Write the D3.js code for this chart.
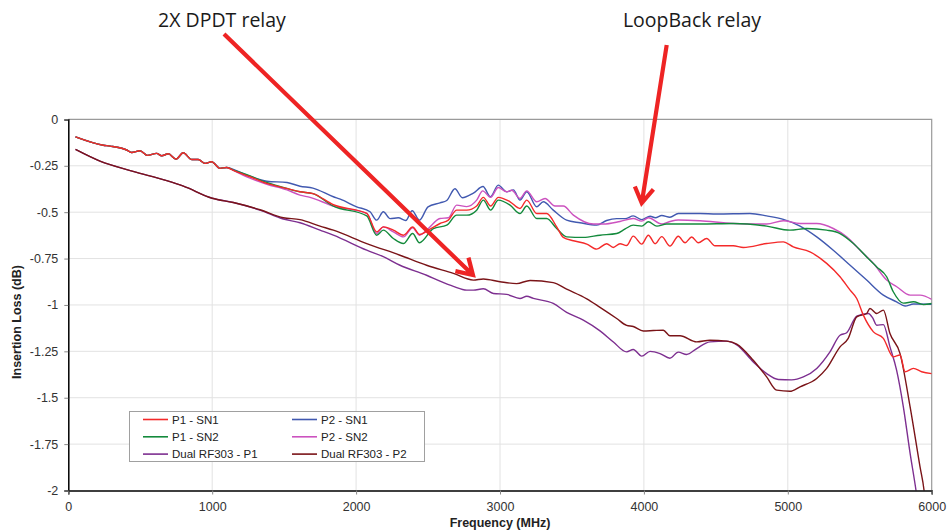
<!DOCTYPE html>
<html>
<head>
<meta charset="utf-8">
<script src="https://cdn.jsdelivr.net/npm/d3@7"></script>
<style>
  body { margin: 0; background: #fff; }
  svg { display: block; }
  .tick text { font-family: "Liberation Sans", Arial, sans-serif; font-size: 12.5px; fill: #333; }
</style>
</head>
<body>
<svg width="949" height="531"></svg>
<script>
// frequency (MHz), insertion loss (dB) pairs
const lowCommon = [[50,-0.094],[243,-0.139],[290,-0.144],[406,-0.165],[440,-0.178],[498,-0.169],[549,-0.194],[614,-0.183],[649,-0.196],[695,-0.185],[748,-0.214],[799,-0.18],[857,-0.216],[903,-0.216],[950,-0.237],[996,-0.228],[1054,-0.264],[1101,-0.259]]

const p1sn1 = lowCommon.concat([[1147,-0.275],[1263,-0.309],[1379,-0.345],[1518,-0.372],[1610,-0.39],[1700,-0.40],[1842,-0.46],[2074,-0.507],[2143,-0.606],[2189,-0.579],[2259,-0.597],[2329,-0.624],[2393,-0.58],[2440,-0.62],[2502,-0.597],[2583,-0.561],[2641,-0.543],[2699,-0.489],[2769,-0.489],[2838,-0.467],[2884,-0.42],[2935,-0.467],[2988,-0.42],[3070,-0.444],[3139,-0.48],[3186,-0.435],[3255,-0.507],[3324,-0.507],[3394,-0.579],[3440,-0.636],[3510,-0.654],[3603,-0.672],[3672,-0.699],[3741,-0.67],[3787,-0.69],[3834,-0.67],[3880,-0.68],[3926,-0.629],[3985,-0.672],[4031,-0.624],[4078,-0.67],[4124,-0.632],[4181,-0.683],[4239,-0.63],[4286,-0.665],[4332,-0.634],[4378,-0.665],[4436,-0.642],[4494,-0.681],[4621,-0.681],[4691,-0.69],[4853,-0.669],[4969,-0.66],[5038,-0.687],[5154,-0.714],[5270,-0.776],[5363,-0.848],[5433,-0.92],[5479,-0.965],[5525,-1.055],[5595,-1.145],[5664,-1.18],[5733,-1.28],[5780,-1.27],[5815,-1.36],[5873,-1.342],[5930,-1.36],[6000,-1.37]])

const p2sn1 = lowCommon.concat([[1147,-0.27],[1240,-0.30],[1380,-0.333],[1520,-0.34],[1610,-0.36],[1700,-0.37],[1842,-0.417],[1890,-0.43],[2004,-0.471],[2097,-0.498],[2143,-0.543],[2189,-0.498],[2236,-0.535],[2293,-0.53],[2345,-0.545],[2390,-0.492],[2440,-0.543],[2500,-0.471],[2583,-0.45],[2630,-0.437],[2687,-0.374],[2738,-0.422],[2815,-0.397],[2882,-0.362],[2933,-0.417],[2988,-0.354],[3046,-0.39],[3093,-0.38],[3139,-0.435],[3186,-0.39],[3255,-0.471],[3301,-0.444],[3370,-0.489],[3463,-0.543],[3556,-0.557],[3672,-0.57],[3741,-0.545],[3811,-0.535],[3870,-0.535],[3926,-0.52],[3985,-0.54],[4043,-0.522],[4080,-0.53],[4124,-0.518],[4181,-0.527],[4239,-0.507],[4390,-0.507],[4506,-0.51],[4737,-0.507],[4853,-0.52],[4969,-0.539],[5085,-0.575],[5201,-0.633],[5316,-0.705],[5433,-0.786],[5548,-0.866],[5664,-0.947],[5756,-0.983],[5815,-1.006],[5873,-0.995],[6000,-0.996]])

const p1sn2 = lowCommon.concat([[1147,-0.273],[1263,-0.305],[1379,-0.34],[1518,-0.372],[1610,-0.39],[1700,-0.40],[1842,-0.467],[2074,-0.52],[2143,-0.624],[2189,-0.597],[2259,-0.642],[2329,-0.669],[2393,-0.615],[2440,-0.665],[2537,-0.588],[2630,-0.57],[2699,-0.516],[2769,-0.516],[2838,-0.489],[2884,-0.435],[2935,-0.489],[2988,-0.435],[3070,-0.462],[3139,-0.507],[3186,-0.467],[3255,-0.534],[3324,-0.534],[3394,-0.588],[3463,-0.633],[3580,-0.636],[3695,-0.624],[3811,-0.615],[3870,-0.59],[3926,-0.57],[3985,-0.575],[4031,-0.552],[4090,-0.575],[4158,-0.564],[4390,-0.564],[4621,-0.561],[4853,-0.575],[5015,-0.597],[5131,-0.588],[5270,-0.597],[5363,-0.615],[5456,-0.669],[5548,-0.741],[5618,-0.795],[5687,-0.848],[5733,-0.929],[5803,-0.99],[5873,-0.983],[5942,-0.998],[6000,-0.992]])

const p2sn2 = lowCommon.concat([[1147,-0.275],[1240,-0.31],[1380,-0.35],[1520,-0.38],[1610,-0.408],[1680,-0.42],[1842,-0.467],[2074,-0.507],[2143,-0.615],[2189,-0.579],[2259,-0.606],[2329,-0.633],[2393,-0.584],[2440,-0.624],[2502,-0.588],[2583,-0.534],[2641,-0.53],[2699,-0.462],[2769,-0.47],[2838,-0.435],[2880,-0.385],[2935,-0.42],[2988,-0.367],[3046,-0.39],[3081,-0.382],[3139,-0.426],[3186,-0.385],[3255,-0.444],[3313,-0.426],[3382,-0.467],[3440,-0.467],[3510,-0.516],[3649,-0.564],[3718,-0.564],[3834,-0.55],[3926,-0.534],[3985,-0.548],[4031,-0.53],[4124,-0.564],[4181,-0.55],[4239,-0.542],[4390,-0.546],[4621,-0.561],[4853,-0.564],[4969,-0.546],[5085,-0.561],[5201,-0.561],[5316,-0.588],[5409,-0.633],[5502,-0.705],[5595,-0.776],[5687,-0.866],[5757,-0.902],[5850,-0.947],[5919,-0.947],[6000,-0.97]])

const dualP1 = [[50,-0.162],[220,-0.225],[450,-0.28],[684,-0.33],[800,-0.36],[1000,-0.425],[1147,-0.448],[1332,-0.489],[1494,-0.537],[1610,-0.557],[1749,-0.597],[1842,-0.624],[2074,-0.705],[2189,-0.74],[2305,-0.786],[2490,-0.84],[2583,-0.872],[2676,-0.9],[2769,-0.92],[2815,-0.92],[2884,-0.913],[2954,-0.938],[3046,-0.943],[3139,-0.965],[3186,-0.953],[3232,-0.965],[3370,-0.992],[3463,-1.04],[3579,-1.082],[3695,-1.14],[3788,-1.2],[3880,-1.253],[3926,-1.24],[3985,-1.276],[4043,-1.25],[4112,-1.262],[4181,-1.287],[4239,-1.254],[4297,-1.267],[4367,-1.235],[4459,-1.199],[4575,-1.195],[4645,-1.215],[4760,-1.307],[4853,-1.37],[4934,-1.402],[5027,-1.404],[5108,-1.388],[5201,-1.342],[5293,-1.253],[5363,-1.163],[5409,-1.15],[5479,-1.06],[5560,-1.046],[5590,-1.07],[5618,-1.109],[5664,-1.106],[5710,-1.226],[5756,-1.351],[5803,-1.549],[5850,-1.8],[5891,-2.0],[5900,-2.05]]

const dualP2 = [[50,-0.162],[220,-0.225],[450,-0.28],[684,-0.33],[800,-0.36],[1000,-0.425],[1147,-0.448],[1332,-0.487],[1494,-0.53],[1610,-0.54],[1749,-0.575],[1842,-0.597],[2074,-0.669],[2305,-0.732],[2490,-0.786],[2676,-0.83],[2815,-0.866],[2884,-0.86],[3000,-0.875],[3116,-0.885],[3209,-0.868],[3370,-0.88],[3463,-0.915],[3603,-0.967],[3695,-1.013],[3811,-1.073],[3880,-1.11],[3926,-1.116],[3996,-1.14],[4065,-1.138],[4135,-1.136],[4181,-1.166],[4251,-1.166],[4367,-1.199],[4459,-1.19],[4575,-1.195],[4645,-1.211],[4760,-1.298],[4853,-1.388],[4923,-1.459],[5015,-1.465],[5085,-1.441],[5201,-1.396],[5270,-1.342],[5363,-1.226],[5420,-1.18],[5479,-1.064],[5548,-1.046],[5571,-1.019],[5618,-1.046],[5664,-1.028],[5710,-1.154],[5780,-1.262],[5850,-1.549],[5919,-1.873],[5947,-2.0],[5960,-2.1]]

const seriesNames = ["P1 - SN1", "P2 - SN1", "P1 - SN2", "P2 - SN2", "Dual RF303 - P1", "Dual RF303 - P2"]
const seriesValues = [p1sn1, p2sn1, p1sn2, p2sn2, dualP1, dualP2]
const seriesColors = ["#f42a2a", "#4159b0", "#148a3c", "#cc52bf", "#7d2f90", "#7a1418"]
const drawOrder = [1, 3, 2, 4, 5, 0]

const xTicks = [0, 1000, 2000, 3000, 4000, 5000, 6000]
const yTicks = [0, -0.25, -0.5, -0.75, -1, -1.25, -1.5, -1.75, -2]

const svg = d3.select("svg")
const plotLeft = 68.3, plotRight = 931.7, plotTop = 119.4, plotBottom = 490.5

const x = d3.scaleLinear().domain([0, 6000]).range([plotLeft, plotRight])
const y = d3.scaleLinear().domain([-2, 0]).range([plotBottom, plotTop])

// grid
svg.append("g").selectAll("line").data(yTicks.slice(1, -1)).enter().append("line")
  .attr("x1", plotLeft).attr("x2", plotRight)
  .attr("y1", d => y(d)).attr("y2", d => y(d))
  .attr("stroke", "#e2e2e2").attr("stroke-width", 1)
svg.append("g").selectAll("line").data(xTicks.slice(1, -1)).enter().append("line")
  .attr("y1", plotTop).attr("y2", plotBottom)
  .attr("x1", d => x(d)).attr("x2", d => x(d))
  .attr("stroke", "#e2e2e2").attr("stroke-width", 1)

// top / right frame
svg.append("path")
  .attr("d", `M${plotLeft},${plotTop}H${plotRight}V${plotBottom}`)
  .attr("fill", "none").attr("stroke", "#9a9a9a").attr("stroke-width", 1.2)

// series
svg.append("defs").append("clipPath").attr("id", "plotClip")
  .append("rect").attr("x", plotLeft).attr("y", plotTop)
  .attr("width", plotRight - plotLeft).attr("height", plotBottom - plotTop)

const line = d3.line()
  .x(d => x(d[0]))
  .y(d => y(d[1]))
  .curve(d3.curveMonotoneX)

const lines = svg.append("g").attr("clip-path", "url(#plotClip)")
drawOrder.forEach(i => {
  lines.append("path")
    .datum(seriesValues[i])
    .attr("fill", "none")
    .attr("stroke", seriesColors[i])
    .attr("stroke-width", 1.4)
    .attr("d", line)
})

// axes
const yAxis = svg.append("g")
  .attr("transform", `translate(${plotLeft},0)`)
  .call(d3.axisLeft(y).tickValues(yTicks).tickFormat(d => String(d)).tickSize(4).tickPadding(6))
yAxis.select(".domain").attr("stroke", "#000").attr("stroke-width", 1.5)
yAxis.selectAll(".tick line").attr("stroke", "#888")

const xAxis = svg.append("g")
  .attr("transform", `translate(0,${plotBottom})`)
  .call(d3.axisBottom(x).tickValues(xTicks).tickFormat(d => String(d)).tickSize(4).tickPadding(8))
xAxis.select(".domain").attr("stroke", "#000").attr("stroke-width", 1.5)
xAxis.selectAll(".tick line").attr("stroke", "#888")

svg.append("text")
  .attr("x", (plotLeft + plotRight) / 2).attr("y", 527)
  .attr("text-anchor", "middle")
  .style("font-family", "Liberation Sans, Arial, sans-serif")
  .style("font-size", "12.5px").style("font-weight", "bold").style("fill", "#222")
  .text("Frequency (MHz)")

svg.append("text")
  .attr("transform", "translate(21,322) rotate(-90)")
  .attr("text-anchor", "middle")
  .style("font-family", "Liberation Sans, Arial, sans-serif")
  .style("font-size", "12.5px").style("font-weight", "bold").style("fill", "#222")
  .text("Insertion Loss (dB)")

// legend
const legend = svg.append("g")
legend.append("rect")
  .attr("x", 129.5).attr("y", 411.5).attr("width", 295).attr("height", 50)
  .attr("fill", "#fff").attr("stroke", "#a0a0a0").attr("stroke-width", 1)
seriesNames.forEach((name, i) => {
  const col = i % 2, row = Math.floor(i / 2)
  const lx = col === 0 ? 143 : 292
  const ly = 419.5 + row * 17.3
  legend.append("line")
    .attr("x1", lx).attr("x2", lx + 25).attr("y1", ly).attr("y2", ly)
    .attr("stroke", seriesColors[i]).attr("stroke-width", 1.6)
  legend.append("text")
    .attr("x", lx + 29).attr("y", ly + 4.2)
    .style("font-family", "Liberation Sans, Arial, sans-serif")
    .style("font-size", "11.5px").style("fill", "#222")
    .text(name)
})

// annotations
const notes = [
  { text: "2X DPDT relay", tx: 222, ty: 27, sx: 224, sy: 34, f: 2812, db: -0.839 },
  { text: "LoopBack relay", tx: 692, ty: 27, sx: 666.7, sy: 45, f: 3985, db: -0.451 }
]
const ann = svg.append("g")
notes.forEach(n => {
  ann.append("text")
    .attr("x", n.tx).attr("y", n.ty)
    .attr("text-anchor", "middle")
    .style("font-family", "Open Sans, sans-serif")
    .style("font-size", "19.5px").style("fill", "#1a1a1a")
    .text(n.text)
  const ex = x(n.f), ey = y(n.db)
  const ang = Math.atan2(ey - n.sy, ex - n.sx)
  const len = 18, spread = 0.55
  ann.append("path")
    .attr("d", `M${n.sx},${n.sy}L${ex},${ey}` +
      `M${ex - len * Math.cos(ang - spread)},${ey - len * Math.sin(ang - spread)}L${ex},${ey}` +
      `L${ex - len * Math.cos(ang + spread)},${ey - len * Math.sin(ang + spread)}`)
    .attr("fill", "none").attr("stroke", "#ee2424").attr("stroke-width", 4.2)
    .attr("stroke-linecap", "butt").attr("stroke-linejoin", "miter")
})
</script>
</body>
</html>
